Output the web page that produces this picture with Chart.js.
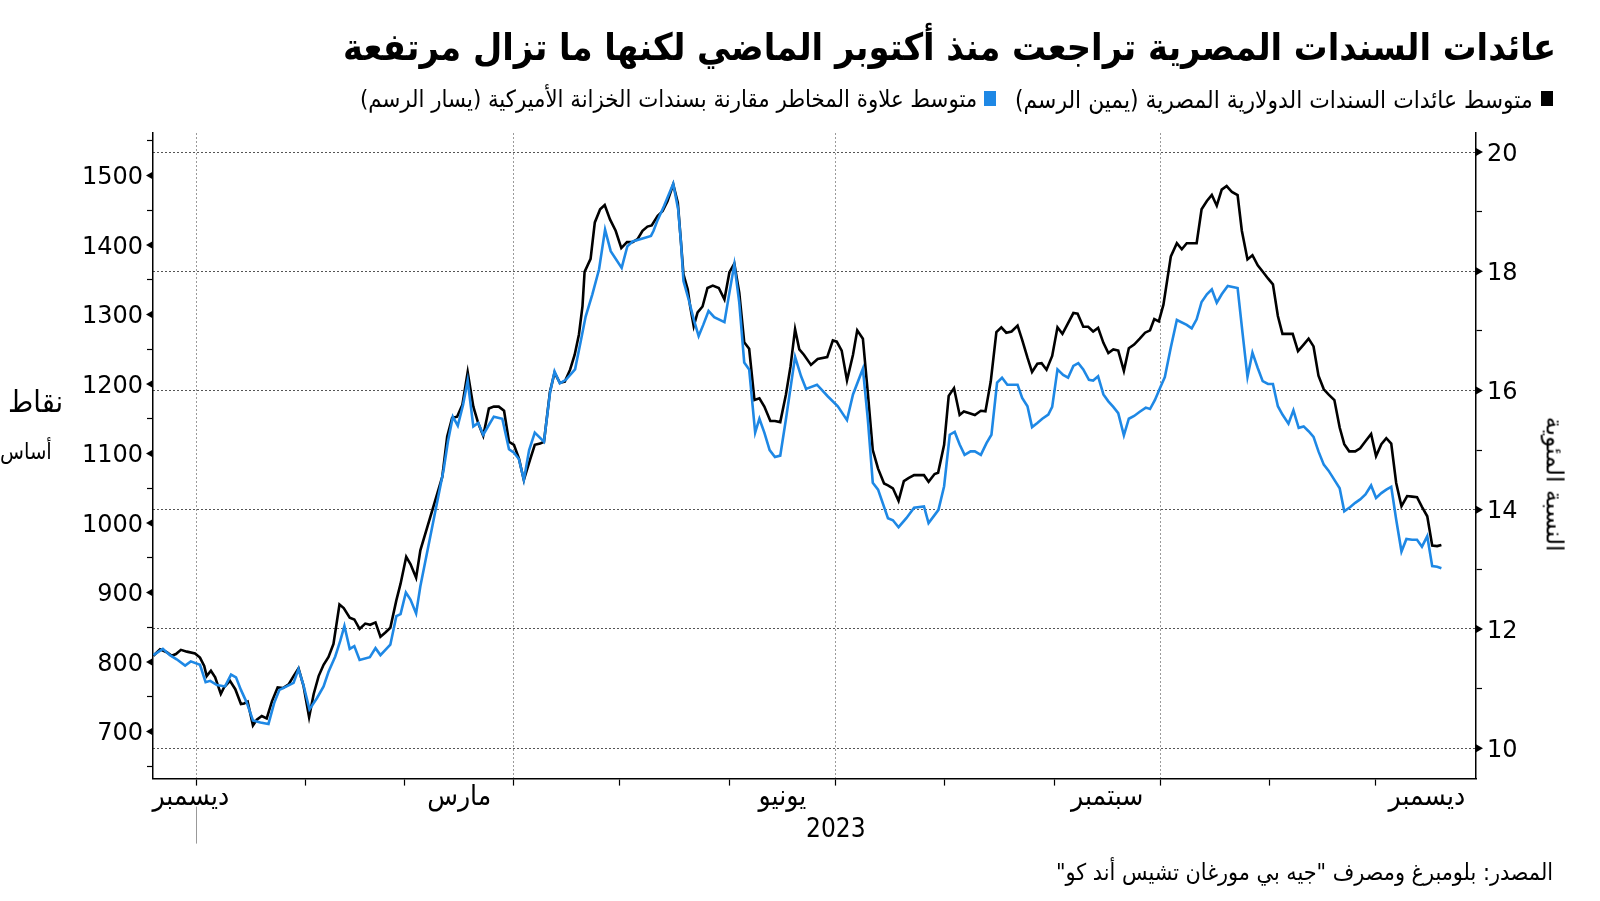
<!DOCTYPE html>
<html lang="ar">
<head>
<meta charset="utf-8">
<script src="https://cdn.jsdelivr.net/npm/chart.js@4.4.0/dist/chart.umd.min.js"></script>
<style>
html,body{margin:0;padding:0;background:#fff;width:1600px;height:901px;overflow:hidden;}
#wrap{position:absolute;left:0;top:0;width:1600px;height:901px;direction:ltr;}
canvas{position:absolute;left:0;top:0;}
.t{position:absolute;white-space:nowrap;color:#000;direction:rtl;line-height:1.2;font-family:'DejaVu Sans';}
#title{font-family:'DejaVu Sans Condensed','DejaVu Sans';font-weight:bold;font-size:34px;}
.leg{font-family:'DejaVu Sans Condensed','DejaVu Sans';font-size:20px;}
#source{font-family:'DejaVu Sans Condensed','DejaVu Sans';font-size:20px;}
.axt{font-size:26px;font-family:'DejaVu Sans Condensed','DejaVu Sans';}
#rtitle{font-size:22px;transform:rotate(90deg);transform-origin:50% 50%;}
#year{font-family:'DejaVu Sans Condensed','DejaVu Sans';font-size:26px;direction:ltr;}
.sq{position:absolute;width:12px;height:15px;}
</style>
</head>
<body>
<div id="wrap">
  <canvas id="c" width="1600" height="901"></canvas>
  <div class="t" id="title">عائدات السندات المصرية تراجعت منذ أكتوبر الماضي لكنها ما تزال مرتفعة</div>
  <div class="sq" id="sqBlack" style="background:#000;"></div>
  <div class="t leg" id="legBlack">متوسط عائدات السندات الدولارية المصرية (يمين الرسم)</div>
  <div class="sq" id="sqBlue" style="background:#1e88e5;"></div>
  <div class="t leg" id="legBlue">متوسط علاوة المخاطر مقارنة بسندات الخزانة الأميركية (يسار الرسم)</div>
  <div class="t axt" id="lt1">نقاط</div>
  <div class="t axt" id="lt2">أساس</div>
  <div class="t" id="rtitle">النسبة المئوية</div>
  <div class="t" id="year">2023</div>
  <div class="t" id="source">المصدر: بلومبرغ ومصرف "جيه بي مورغان تشيس أند كو"</div>
</div>
<script>
// ---- DATA (x = days since 1 Jan 2023) ----
const yieldDays = [-12.1,-10.2,-8.3,-6.9,-5.7,-4.3,-2.6,-0.3,1.1,2.3,3.0,4.2,5.4,7.0,7.9,9.6,11.1,12.7,13.6,14.6,16.1,17.2,18.6,20.0,21.5,23.1,24.6,26.2,27.6,29.0,30.4,32.0,33.3,34.7,36.1,37.5,38.9,40.6,41.8,43.5,44.8,46.3,47.9,49.3,50.8,52.2,53.6,55.0,56.7,57.9,59.5,60.7,62.3,63.5,69.7,71.1,72.5,73.9,75.4,76.9,78.5,79.9,81.3,82.9,84.3,85.7,87.2,88.6,90.0,91.4,92.8,94.5,95.9,97.4,98.5,100.2,101.5,103.0,104.4,105.9,107.2,108.4,109.4,110.0,111.7,112.9,114.4,115.7,117.2,118.8,120.4,122.0,123.6,125.0,126.4,127.8,129.0,130.7,132.1,133.5,135.1,136.4,137.3,138.0,139.2,139.9,140.9,142.0,143.4,144.8,146.3,148.0,149.6,151.0,152.4,153.8,155.2,156.6,158.1,159.5,160.9,162.6,163.9,165.4,167.0,168.3,169.6,170.8,172.1,174.1,176.0,178.7,180.3,181.4,182.8,184.3,186.0,187.2,188.8,190.2,191.6,193.1,194.8,195.9,197.3,198.9,200.4,201.7,203.3,204.9,206.1,207.4,209.1,210.1,211.8,213.1,214.6,216.2,217.4,219.0,220.5,222.2,223.5,225.0,226.6,228.0,229.4,230.9,232.6,233.9,235.4,236.7,238.2,239.4,240.8,242.4,243.9,245.3,246.9,248.4,249.6,251.2,252.6,254.0,255.4,256.9,258.3,259.7,261.1,262.7,264.1,265.6,267.2,268.7,270.1,271.3,272.6,273.9,276.0,277.7,279.1,280.5,283.3,284.7,286.2,287.6,289.0,290.4,291.8,293.3,294.9,296.1,297.7,299.1,300.6,302.2,303.5,304.9,306.3,307.6,309.3,310.5,312.0,313.6,315.0,316.4,317.8,319.3,320.7,322.3,323.8,325.1,326.5,328.2,329.6,331.1,332.7,334.1,335.6,337.0,338.4,339.8,341.3,342.9,344.3,345.7,347.1,348.6,350.0,351.4,352.6];
const yieldPct = [11.55,11.66,11.61,11.55,11.58,11.65,11.62,11.59,11.52,11.38,11.21,11.30,11.19,10.91,11.02,11.13,10.99,10.74,10.75,10.78,10.38,10.48,10.54,10.50,10.79,11.02,11.01,11.07,11.21,11.34,11.05,10.52,10.91,11.21,11.40,11.53,11.75,12.41,12.35,12.19,12.16,12.00,12.09,12.07,12.11,11.87,11.94,12.02,12.48,12.76,13.21,13.09,12.86,13.32,14.55,15.23,15.54,15.56,15.76,16.31,15.73,15.45,15.24,15.70,15.73,15.73,15.66,15.14,15.09,14.86,14.50,14.83,15.09,15.11,15.14,15.98,16.30,16.13,16.15,16.35,16.60,16.94,17.41,17.99,18.21,18.82,19.04,19.11,18.87,18.68,18.39,18.49,18.49,18.54,18.68,18.75,18.77,18.93,19.01,19.18,19.46,19.15,18.48,17.95,17.70,17.41,17.08,17.31,17.41,17.72,17.76,17.72,17.53,17.98,18.13,17.64,16.81,16.70,15.84,15.87,15.73,15.49,15.49,15.47,15.93,16.40,17.03,16.69,16.60,16.43,16.53,16.56,16.84,16.82,16.67,16.17,16.60,17.01,16.87,15.96,15.00,14.69,14.44,14.41,14.36,14.15,14.48,14.53,14.58,14.58,14.58,14.47,14.60,14.62,15.09,15.91,16.04,15.59,15.65,15.62,15.59,15.66,15.65,16.15,16.98,17.06,16.97,16.99,17.09,16.85,16.55,16.31,16.45,16.46,16.35,16.58,17.06,16.95,17.13,17.30,17.29,17.07,17.07,16.99,17.05,16.80,16.63,16.69,16.67,16.33,16.71,16.77,16.87,16.97,17.01,17.20,17.16,17.44,18.25,18.47,18.37,18.47,18.47,19.04,19.18,19.28,19.10,19.37,19.43,19.33,19.28,18.68,18.20,18.27,18.10,17.98,17.88,17.78,17.25,16.95,16.95,16.95,16.66,16.77,16.87,16.74,16.25,16.02,15.93,15.84,15.38,15.10,14.98,14.98,15.03,15.15,15.27,14.90,15.10,15.20,15.11,14.45,14.06,14.23,14.22,14.21,14.05,13.89,13.40,13.39,13.41];

const spreadDays = [-12.1,-9.4,-7.4,-5.5,-3.1,-1.5,1.1,2.7,4.0,5.9,8.2,9.9,11.3,12.7,14.4,16.1,18.2,20.5,22.1,23.6,25.2,27.6,29.0,30.4,32.1,34.2,36.1,37.5,39.4,40.8,42.0,43.5,44.8,46.3,49.2,50.8,52.2,55.0,56.7,57.9,59.4,60.7,62.3,63.5,70.1,71.3,72.7,74.1,75.6,76.9,78.5,79.9,81.3,82.9,84.3,86.7,88.6,90.0,91.4,92.8,94.3,95.9,98.5,100.2,101.5,103.0,104.7,107.3,108.9,110.3,112.2,114.1,115.8,117.4,120.5,122.1,123.6,126.9,128.8,129.5,130.7,132.5,135.1,136.5,137.3,138.0,139.6,140.9,142.3,143.6,145.1,146.7,149.6,151.0,152.4,153.8,155.2,156.6,158.3,159.5,160.9,162.4,163.9,165.4,167.0,169.6,171.3,172.7,175.8,178.9,181.7,184.3,186.0,188.8,190.2,191.6,193.1,195.9,197.3,198.9,201.1,203.3,206.1,207.4,210.2,211.8,213.4,214.8,216.2,217.6,219.3,220.5,222.2,223.8,225.2,226.8,228.2,229.7,232.6,233.9,235.4,236.7,238.2,239.6,241.3,242.4,243.9,245.5,246.9,248.4,249.8,251.2,252.8,254.0,255.4,256.9,258.3,259.7,261.1,262.7,264.1,265.6,267.2,268.9,270.1,271.5,272.9,274.3,276.0,277.7,280.5,281.9,283.3,284.7,286.2,287.6,289.0,290.4,292.1,294.9,296.3,297.7,299.1,300.6,302.0,303.5,304.9,306.3,307.6,309.3,310.7,312.2,313.6,315.0,316.4,317.8,319.3,320.7,322.3,323.8,325.1,326.8,328.2,329.6,331.1,332.7,334.1,335.6,337.0,338.4,339.8,341.3,342.7,344.3,345.7,347.1,348.6,350.0,351.4,352.6];
const spreadBp = [810,819,810,804,795,801,796,771,773,767,765,782,778,760,741,716,713,711,741,760,764,770,790,767,732,748,765,786,808,830,852,819,823,803,807,820,810,825,866,869,900,890,870,909,1077,1117,1153,1140,1170,1205,1139,1144,1127,1141,1153,1150,1106,1101,1092,1062,1105,1130,1117,1187,1218,1201,1206,1221,1261,1297,1329,1365,1422,1391,1367,1398,1405,1410,1413,1420,1436,1456,1488,1451,1403,1348,1319,1293,1269,1285,1305,1296,1289,1331,1372,1317,1231,1221,1130,1150,1130,1105,1095,1097,1149,1239,1211,1193,1199,1182,1168,1148,1185,1222,1149,1058,1048,1007,1004,994,1007,1022,1024,1000,1019,1053,1127,1131,1113,1098,1103,1103,1098,1115,1127,1202,1209,1199,1199,1180,1168,1138,1144,1150,1156,1167,1221,1213,1209,1226,1230,1221,1206,1205,1211,1185,1175,1167,1158,1126,1150,1154,1160,1166,1164,1177,1194,1210,1253,1292,1285,1280,1293,1318,1329,1336,1317,1329,1341,1338,1273,1210,1245,1223,1204,1200,1200,1168,1156,1143,1162,1137,1139,1132,1124,1103,1084,1075,1062,1050,1017,1023,1029,1034,1041,1054,1036,1043,1048,1052,1005,959,977,976,976,966,981,938,937,935];

// axis ticks and labels
const monthStartDays = [0,31,59,90,120,151,181,212,243,273,304,334];
const quarterStartDays = [0,90,181,273];
const monthLabelDays = [-1.5,74.5,166,258,348.5];
const monthLabelNames = ['ديسمبر','مارس','يونيو','سبتمبر','ديسمبر'];
const spreadTicks = [700,800,900,1000,1100,1200,1300,1400,1500];
const spreadMinorTicks = [650,750,850,950,1050,1150,1250,1350,1450,1550];
const yieldTicks = [10,12,14,16,18,20];
const yieldMinorTicks = [11,13,15,17,19];
const yearStartDay = 0;

// ---- text placement ----
function place(id, o){
  const el=document.getElementById(id);
  if(o.w){const w=el.offsetWidth;const fs=parseFloat(getComputedStyle(el).fontSize);el.style.fontSize=(fs*o.w/w)+'px';}
  const w=el.offsetWidth,h=el.offsetHeight;
  if(o.right!==undefined) el.style.left=(o.right-w)+'px';
  if(o.cx!==undefined) el.style.left=(o.cx-w/2)+'px';
  if(o.left!==undefined) el.style.left=o.left+'px';
  el.style.top=(o.cy-h/2)+'px';
}
place('title',{w:1214,right:1556,cy:47});
place('legBlack',{w:518,right:1533,cy:99});
place('legBlue',{w:618,right:977,cy:99});
document.getElementById('sqBlack').style.cssText+='left:1541px;top:91px;';
document.getElementById('sqBlue').style.cssText+='left:984px;top:91px;';
place('lt1',{w:55,left:8,cy:402});
place('lt2',{w:52,left:0,cy:452});
place('rtitle',{w:135,cx:1554,cy:484});
place('year',{w:60,cx:836,cy:828});
place('source',{w:497,right:1553,cy:873});

const near=(v,arr)=>arr.some(a=>Math.abs(a-v)<0.01);
const clear='rgba(0,0,0,0)';

const markers={
  id:'markers',
  afterDraw(chart){
    const c=chart.ctx, ca=chart.chartArea;
    const yl=chart.scales.yL, yr=chart.scales.yR, xs=chart.scales.x;
    c.save();
    c.fillStyle='#000';
    spreadTicks.forEach(v=>{const y=yl.getPixelForValue(v);c.beginPath();c.moveTo(ca.left,y-4);c.lineTo(ca.left-7,y);c.lineTo(ca.left,y+4);c.closePath();c.fill();});
    yieldTicks.forEach(v=>{const y=yr.getPixelForValue(v);c.beginPath();c.moveTo(ca.right,y-4);c.lineTo(ca.right+7,y);c.lineTo(ca.right,y+4);c.closePath();c.fill();});
    const x0=Math.round(xs.getPixelForValue(yearStartDay))+0.5;
    c.strokeStyle='#999';c.lineWidth=1;c.beginPath();c.moveTo(x0,ca.bottom+28);c.lineTo(x0,ca.bottom+65);c.stroke();
    c.restore();
  }
};

new Chart(document.getElementById('c'),{
  type:'line',
  data:{datasets:[
    {label:'spread',data:spreadDays.map((d,i)=>({x:d,y:spreadBp[i]})),yAxisID:'yL',borderColor:'#1e88e5',borderWidth:2.6,pointRadius:0,tension:0,order:0},
    {label:'yield',data:yieldDays.map((d,i)=>({x:d,y:yieldPct[i]})),yAxisID:'yR',borderColor:'#000',borderWidth:2.6,pointRadius:0,tension:0,order:1}
  ]},
  options:{
    responsive:false,animation:false,devicePixelRatio:1,
    layout:{padding:{top:133,bottom:82.4,left:0,right:0}},
    plugins:{legend:{display:false},tooltip:{enabled:false},title:{display:false}},
    scales:{
      x:{type:'linear',min:-12.2,max:362.4,
        afterBuildTicks:s=>{const v=[...monthStartDays];monthLabelDays.forEach(d=>{if(!near(d,v))v.push(d);});v.sort((a,b)=>a-b);s.ticks=v.map(x=>({value:x}));},
        afterFit:s=>{s.height=40;},
        ticks:{autoSkip:false,maxRotation:0,minRotation:0,padding:-5,color:'#000',font:{family:'DejaVu Sans Condensed',size:28},
          callback:v=>{const i=monthLabelDays.findIndex(d=>Math.abs(d-v)<0.01);return i>=0?monthLabelNames[i]:'';}},
        grid:{lineWidth:1,tickLength:7,tickWidth:1.2,
          color:c=>c.tick&&near(c.tick.value,quarterStartDays)?'#9a9a9a':clear,
          tickColor:c=>c.tick&&near(c.tick.value,monthStartDays)?'#000':clear},
        border:{display:true,color:'#000',width:1.5,dash:[2,2]}
      },
      yL:{position:'left',min:632.4,max:1561,
        afterBuildTicks:s=>{s.ticks=[...spreadTicks,...spreadMinorTicks].sort((a,b)=>a-b).map(x=>({value:x}));},
        afterFit:s=>{s.width=153;},
        ticks:{padding:4,labelOffset:2.5,color:'#000',font:{family:'DejaVu Sans',size:24},callback:v=>near(v,spreadTicks)?String(v):''},
        grid:{drawOnChartArea:false,tickLength:6,tickWidth:1.2,tickColor:c=>c.tick&&near(c.tick.value,spreadMinorTicks)?'#000':clear},
        border:{display:true,color:'#000',width:1.5}
      },
      yR:{position:'right',min:9.49,max:20.32,
        afterBuildTicks:s=>{s.ticks=[...yieldTicks,...yieldMinorTicks].sort((a,b)=>a-b).map(x=>({value:x}));},
        afterFit:s=>{s.width=124;},
        ticks:{padding:5,labelOffset:2.5,color:'#000',font:{family:'DejaVu Sans',size:24},callback:v=>near(v,yieldTicks)?String(v):''},
        grid:{drawOnChartArea:true,lineWidth:1,tickLength:6,tickWidth:1.2,
          color:c=>c.tick&&near(c.tick.value,yieldTicks)?'#555':clear,
          tickColor:c=>c.tick&&near(c.tick.value,yieldMinorTicks)?'#000':clear},
        border:{display:true,color:'#000',width:1.5,dash:[2,2]}
      }
    }
  },
  plugins:[markers]
});
</script>
</body>
</html>
